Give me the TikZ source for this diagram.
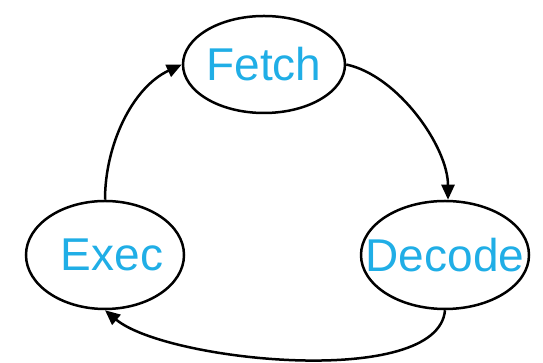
\documentclass[tikz,border=0pt]{standalone}
\usepackage{fontspec}
\setmainfont{Liberation Sans}
\usetikzlibrary{shapes.geometric,arrows.meta}
\definecolor{stagetext}{RGB}{32,174,230}
\tikzset{
  stage/.style={ellipse, draw=black, line width=2.5pt, inner sep=0pt},
  stagelabel/.style={inner sep=0pt, text=stagetext, font=\fontsize{46}{55}\selectfont},
  flow/.style={line width=2.5pt, -{Triangle[length=15pt,width=13pt]}}
}
\begin{document}
\begin{tikzpicture}[x=1pt,y=1pt]
  \useasboundingbox (0,0) rectangle (543,363);
  % pipeline stages
  \node[stage, minimum width=162pt, minimum height=97pt,
        label={[stagelabel]center:Fetch}] (fetch) at (264,298.5) {};
  \node[stage, minimum width=168pt, minimum height=108pt,
        label={[stagelabel]center:Decode}] (decode) at (445,108) {};
  \node[stage, minimum width=158pt, minimum height=108pt,
        label={[stagelabel, xshift=7pt]center:Exec}] (exec) at (105,108) {};
  % transitions between stages
  \draw[flow] (fetch.east) to[out=-12, in=90, looseness=0.8] ([xshift=3pt]decode.north);
  \draw[flow] (decode.south) to[out=-95, in=-40, looseness=0.6] (exec.south);
  \draw[flow] (exec.north) to[out=90, in=205, looseness=0.9] (fetch.west);
\end{tikzpicture}
\end{document}
